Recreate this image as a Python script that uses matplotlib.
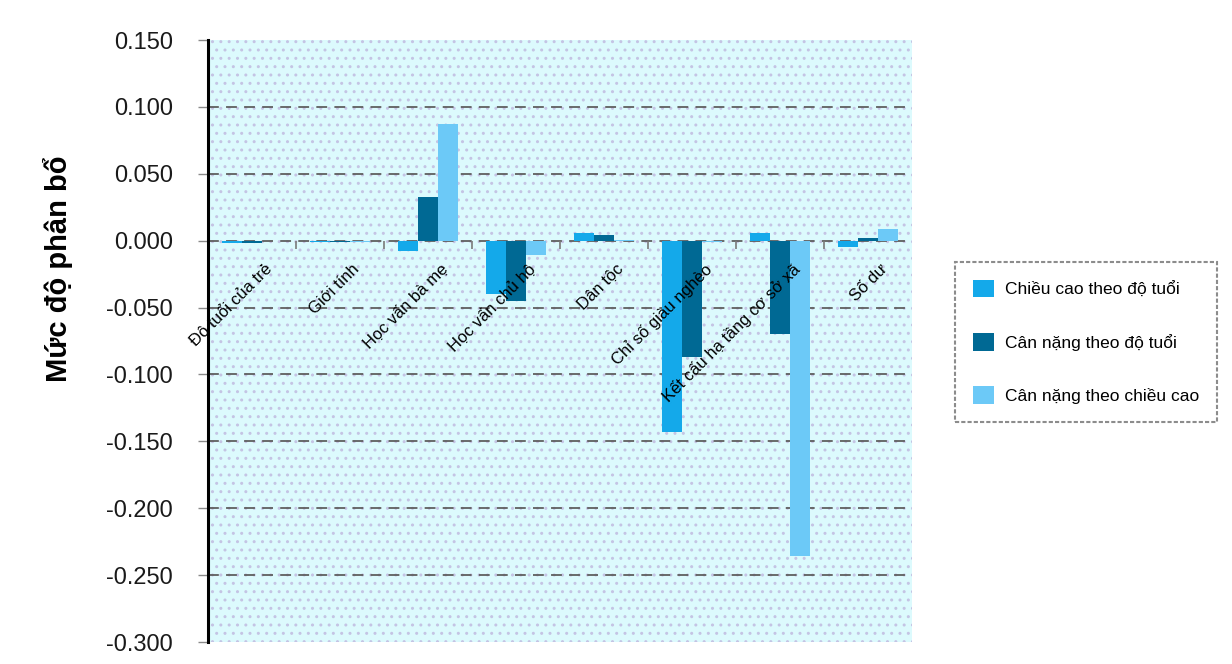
#%% --- Import required packages ---

import numpy as np
import matplotlib.pyplot as plt
from matplotlib.patches import Patch, Rectangle
from matplotlib.ticker import FormatStrFormatter, FixedLocator
from matplotlib.transforms import ScaledTranslation

plt.rcParams["font.family"] = ["Liberation Sans", "DejaVu Sans"]

#%% --- Data ---

categories = ["Độ tuổi của trẻ", "Giới tính", "Học vấn bà mẹ",
              "Học vấn chủ hộ", "Dân tộc", "Chỉ số giàu nghèo",
              "Kết cấu hạ tầng cơ sở xã", "Số dư"]

series_names = ["Chiều cao theo độ tuổi",
                "Cân nặng theo độ tuổi",
                "Cân nặng theo chiều cao"]

chieu_cao_theo_tuoi = [-0.0015, -0.001, -0.008, -0.040, 0.006, -0.143, 0.006, -0.005]
can_nang_theo_tuoi = [-0.0015, -0.001, 0.033, -0.045, 0.004, -0.087, -0.070, 0.002]
can_nang_theo_chieu_cao = [-0.0005, -0.001, 0.087, -0.011, 0.0005, -0.001, -0.236, 0.009]

y_ticks = [0.150, 0.100, 0.050, 0.000, -0.050, -0.100, -0.150, -0.200, -0.250, -0.300]

#%% --- Visualize Data ---

colors = ["#14a9ea", "#006994", "#6cc9f7"]
series = [chieu_cao_theo_tuoi, can_nang_theo_tuoi, can_nang_theo_chieu_cao]

fig = plt.figure(figsize=(12.32, 6.64), dpi=100)
ax = fig.add_axes([0.1688, 0.0331, 0.5714, 0.9066])

# Patterned plot area background
ax.set_facecolor("white")
ax.add_patch(Rectangle((0, 0), 1, 1, transform=ax.transAxes,
                       facecolor="#dcfafd", edgecolor="#c4c4e4",
                       hatch="..", linewidth=0, zorder=0))

x = np.arange(len(categories))
bar_width = 0.23

# Bars sit under the axis layer so the category labels stay readable
for i, (values, color) in enumerate(zip(series, colors)):
    ax.bar(x + (i - 1) * bar_width, values,
           width=bar_width,
           color=color,
           edgecolor="none",
           label=series_names[i],
           zorder=1.2)

# --- Axis parameters ---
ax.set_xlim(-0.5, len(categories) - 0.5)
ax.set_ylim(min(y_ticks), max(y_ticks))

# Dashed horizontal gridlines
for y in y_ticks[1:-1]:
    ax.axhline(y, color="#5f5f5f", linewidth=1.3,
               dashes=(6, 4), zorder=1.0)

for side in ["top", "right"]:
    ax.spines[side].set_visible(False)
ax.spines["left"].set_linewidth(2.2)
ax.spines["left"].set_color("black")
ax.spines["left"].set_zorder(3)
ax.spines["bottom"].set_position(("data", 0))
ax.spines["bottom"].set_visible(False)

# --- Ticks and labels ---

# Y-ticks
ax.set_yticks(y_ticks)
ax.yaxis.set_major_formatter(FormatStrFormatter("%.3f"))
ax.tick_params(axis="y", direction="out", length=7, width=1,
               color="#8a8a8a", pad=18, labelsize=17,
               labelcolor="#1a1a1a")

# X-ticks: labels at the centers, small marks between categories
ax.set_xticks(x)
ax.set_xticklabels(categories, rotation=45, ha="right", va="top",
                   rotation_mode="anchor", fontsize=12)
ax.tick_params(axis="x", which="major", length=0, pad=15)
ax.xaxis.set_minor_locator(FixedLocator(x[:-1] + 0.5))
ax.tick_params(axis="x", which="minor", direction="out", length=6,
               width=1.2, color="#7a7a7a")

shift = ScaledTranslation(0.12, 0, fig.dpi_scale_trans)
for label in ax.get_xticklabels():
    label.set_transform(label.get_transform() + shift)

# Y label
fig.text(0.047, 0.596, "Mức độ phân bổ", rotation=90,
         ha="center", va="center", fontsize=21, fontweight="bold")

# Legend
handles = [Patch(facecolor=c, edgecolor="none") for c in colors]
legend = fig.legend(handles, series_names,
                    loc="upper left",
                    bbox_to_anchor=(0.7752, 0.6054),
                    borderaxespad=0,
                    fontsize=12.5,
                    frameon=True,
                    fancybox=False,
                    handlelength=1.2,
                    handleheight=1.15,
                    handletextpad=0.6,
                    labelspacing=2.05,
                    borderpad=1.05)
frame = legend.get_frame()
frame.set_edgecolor("#707070")
frame.set_linestyle((0, (2, 1)))
frame.set_linewidth(1.5)

#%% --- Export data ---

fig.savefig("out.png", dpi=100)
